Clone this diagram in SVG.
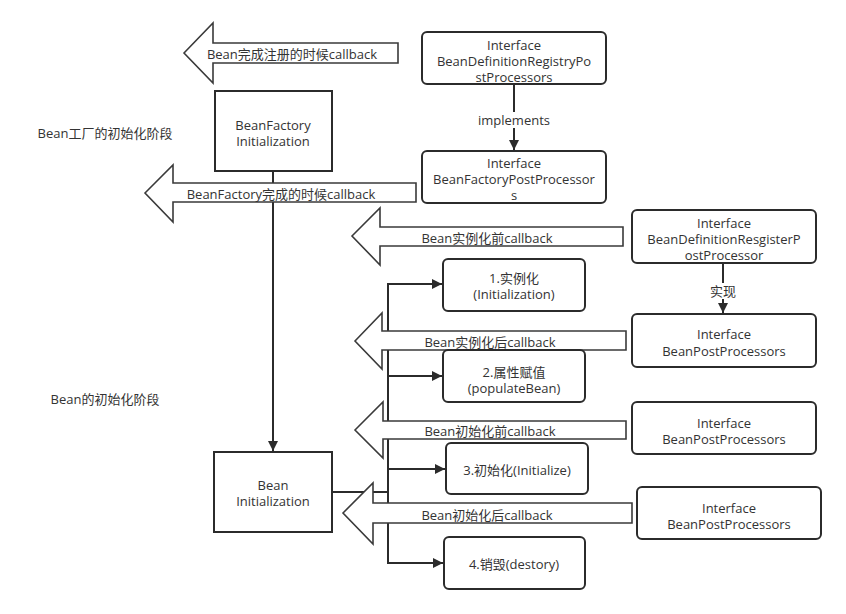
<svg xmlns="http://www.w3.org/2000/svg" width="846" height="614" viewBox="0 0 846 614">
<defs>
<style>
text{font-family:"Open Sans","Noto Sans CJK SC",sans-serif;font-size:13px;fill:#333;text-anchor:middle;dominant-baseline:central}
.box{fill:#fff;stroke:#2b2b2b;stroke-width:2}
.big{fill:#fff;stroke:#3a3a3a;stroke-width:1.6;stroke-linejoin:miter}
.ln{fill:none;stroke:#2b2b2b;stroke-width:2}
</style>
<marker id="ah" viewBox="0 0 10 10" refX="10" refY="5" markerWidth="5" markerHeight="5" orient="auto" markerUnits="strokeWidth">
<path d="M0,0 L10,5 L0,10 z" fill="#2b2b2b"/>
</marker>
</defs>
<rect width="846" height="614" fill="#fff"/>

<g id="labels">
<text x="105" y="133">Bean工厂的初始化阶段</text>
<text x="105" y="399">Bean的初始化阶段</text>
</g>

<g id="connectors">
<line class="ln" x1="273" y1="171" x2="273" y2="451" marker-end="url(#ah)"/>
<line class="ln" x1="514" y1="84" x2="514" y2="150" marker-end="url(#ah)"/>
<line class="ln" x1="723" y1="263" x2="723" y2="313" marker-end="url(#ah)"/>
<polyline class="ln" points="332,492 388,492"/>
<line class="ln" x1="388" y1="284" x2="388" y2="564"/>
<line class="ln" x1="387" y1="284" x2="442" y2="284" marker-end="url(#ah)"/>
<line class="ln" x1="387" y1="376" x2="442" y2="376" marker-end="url(#ah)"/>
<line class="ln" x1="387" y1="469" x2="445" y2="469" marker-end="url(#ah)"/>
<line class="ln" x1="387" y1="563" x2="443" y2="563" marker-end="url(#ah)"/>
<rect x="489" y="112" width="50" height="16" fill="#fff"/>
<text x="514" y="120">implements</text>
<rect x="710" y="283" width="27" height="16" fill="#fff"/>
<text x="723" y="291">实现</text>
</g>

<g id="cb1"><polygon class="big" points="184,53 213,23 213,43 398,43 398,63 213,63 213,83"/><text x="292" y="54">Bean完成注册的时候callback</text></g>
<g id="cb2"><polygon class="big" points="145,193 173,165 173,183 416,183 416,202 173,202 173,222"/><text x="281" y="194">BeanFactory完成的时候callback</text></g>
<g id="cb3"><polygon class="big" points="352,236 380,208 380,227 623,227 623,246 380,246 380,265"/><text x="487" y="238">Bean实例化前callback</text></g>
<g id="cb4"><polygon class="big" points="355,341 382,313 382,331 626,331 626,350 382,350 382,369"/><text x="490" y="342">Bean实例化后callback</text></g>
<g id="cb5"><polygon class="big" points="355,430 383,402 383,421 626,421 626,439 383,439 383,458"/><text x="490" y="431">Bean初始化前callback</text></g>
<g id="cb6"><polygon class="big" points="343,513 373,483 373,503 632,503 632,523 373,523 373,544"/><text x="487" y="515">Bean初始化后callback</text></g>

<g id="bf"><rect class="box" x="215" y="91" width="117" height="80"/><text x="273" y="125">BeanFactory</text><text x="273" y="141">Initialization</text></g>
<g id="bi"><rect class="box" x="214" y="452" width="118" height="80"/><text x="273" y="485">Bean</text><text x="273" y="501">Initialization</text></g>

<g id="bdrpp"><rect class="box" x="422" y="32" width="184" height="52" rx="5"/><text x="514" y="45">Interface</text><text x="514" y="61">BeanDefinitionRegistryPo</text><text x="514" y="77">stProcessors</text></g>
<g id="bfpp"><rect class="box" x="422" y="151" width="184" height="52" rx="5"/><text x="514" y="163">Interface</text><text x="514" y="179">BeanFactoryPostProcessor</text><text x="514" y="195">s</text></g>
<g id="bdrp2"><rect class="box" x="632" y="210" width="184" height="53" rx="5"/><text x="724" y="223">Interface</text><text x="724" y="239">BeanDefinitionResgisterP</text><text x="724" y="255">ostProcessor</text></g>
<g id="bpp1"><rect class="box" x="632" y="314" width="184" height="53" rx="5"/><text x="724" y="334">Interface</text><text x="724" y="351">BeanPostProcessors</text></g>
<g id="bpp2"><rect class="box" x="632" y="402" width="184" height="52" rx="5"/><text x="724" y="423">Interface</text><text x="724" y="439">BeanPostProcessors</text></g>
<g id="bpp3"><rect class="box" x="637" y="487" width="184" height="52" rx="5"/><text x="729" y="508">Interface</text><text x="729" y="524">BeanPostProcessors</text></g>

<g id="s1"><rect class="box" x="443" y="259" width="142" height="52" rx="5"/><text x="514" y="278">1.实例化</text><text x="514" y="294">(Initialization)</text></g>
<g id="s2"><rect class="box" x="443" y="350" width="142" height="52" rx="5"/><text x="514" y="372">2.属性赋值</text><text x="514" y="388">(populateBean)</text></g>
<g id="s3"><rect class="box" x="446" y="443" width="142" height="51" rx="5"/><text x="517" y="470">3.初始化(Initialize)</text></g>
<g id="s4"><rect class="box" x="444" y="537" width="141" height="52" rx="5"/><text x="514" y="564">4.销毁(destory)</text></g>
</svg>
